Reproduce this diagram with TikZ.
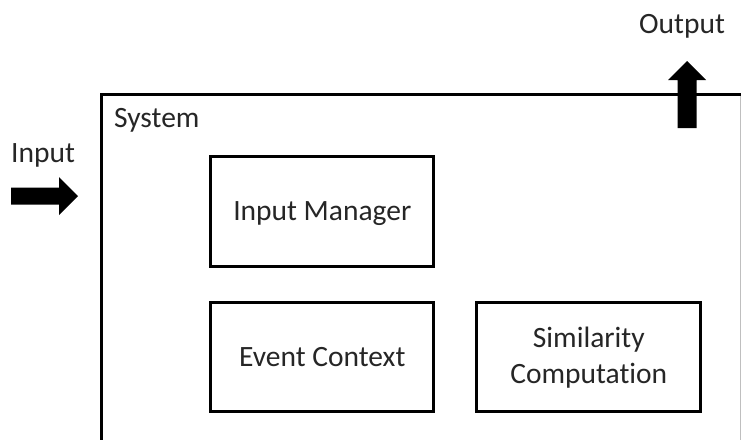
\documentclass[tikz,border=0pt]{standalone}
\usepackage{fontspec}
\setmainfont{Carlito}[Ligatures=NoCommon]
\begin{document}
\begin{tikzpicture}[x=1pt,y=-1pt,
  every node/.style={font=\fontsize{29.5}{36}\selectfont, text=black!85},
  module/.style={draw=black, line width=3pt, text=black!85, align=center, inner sep=0pt},
  bigarrow/.style={fill=black, draw=none}]
\useasboundingbox (0,0) rectangle (741,439);
\clip (0,0) rectangle (741,439);
\fill[white] (0,0) rectangle (741,439);

% system frame (extends past the lower edge)
\draw[line width=3pt] (101.7,460) -- (101.7,94.7) -- (742,94.7);
\draw[black!25, line width=0.8pt] (740.2,96) -- (740.2,460);
\node[anchor=base west, inner sep=0pt] (sys) at (114,127) {System};

% modules
\node[module, minimum width=223pt, minimum height=110pt, text depth=0pt] (im) at (322.3,211) {Input Manager};
\node[module, minimum width=223pt, minimum height=109pt] (ec) at (322.3,357.2) {Event Context};
\node[module, minimum width=223.7pt, minimum height=109pt] (sc) at (588.8,357.2) {Similarity\\Computation};

% input arrow
\node[anchor=base west, inner sep=0pt] (inlbl) at (11,162.5) {Input};
\coordinate (intip) at (78,196);
\fill (11,187.5) -- (59,187.5) -- (59,177) -- (intip) -- (59,215) -- (59,204.5) -- (11,204.5) -- cycle;

% output arrow
\node[anchor=base west, inner sep=0pt] (outlbl) at (639,33) {Output};
\coordinate (outtip) at (687,61);
\fill (677.5,128) -- (677.5,80) -- (668,80) -- (outtip) -- (706,80) -- (696.5,80) -- (696.5,128) -- cycle;
\end{tikzpicture}
\end{document}
